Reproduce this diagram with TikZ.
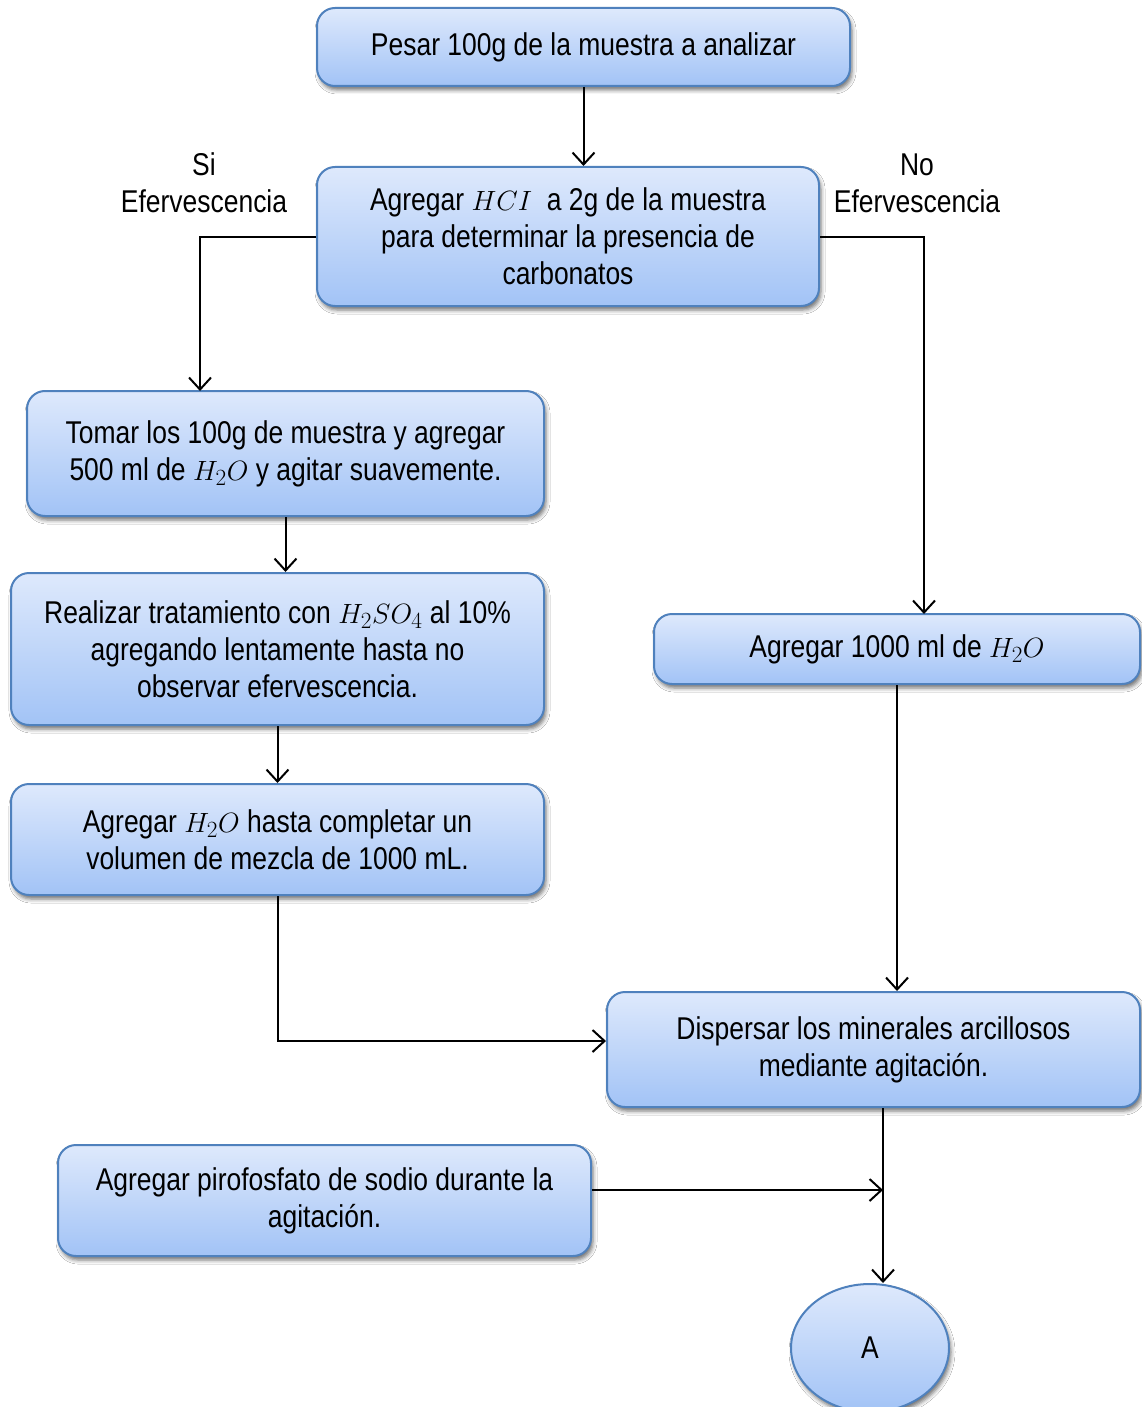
\documentclass[tikz,border=0pt]{standalone}
\usepackage{graphicx}
\usepackage{fontspec}
\setmainfont{Liberation Sans}[FakeStretch=0.84]
\usetikzlibrary{arrows.meta,shapes.geometric,shadows.blur}
\definecolor{boxtop}{RGB}{222,233,252}
\definecolor{boxbot}{RGB}{162,195,246}
\definecolor{boxline}{RGB}{79,129,189}
% chemical formulas set a little larger than the text
\newcommand{\chemf}[1]{\scalebox{1.12}{$#1$}}
\tikzset{
  boxshadow/.style={blur shadow={shadow xshift=2pt, shadow yshift=-4pt,
    shadow blur radius=4pt, shadow opacity=55}},
  stepbox/.style={draw=boxline, line width=2pt, rounded corners=18pt,
    top color=boxtop, bottom color=boxbot, align=center,
    font=\fontsize{31.5}{37}\selectfont, inner sep=0pt, boxshadow},
  endnode/.style={ellipse, draw=boxline, line width=2pt,
    top color=boxtop, bottom color=boxbot, font=\fontsize{31.5}{37}\selectfont,
    inner sep=0pt, boxshadow},
  flow/.style={line width=2pt, -{Straight Barb[length=12pt,width=22pt,line width=2pt]}},
  branch/.style={font=\fontsize{31.5}{37}\selectfont, align=center}
}
\begin{document}
\begin{tikzpicture}[x=1pt,y=-1pt]
\useasboundingbox[fill=white] (0,0) rectangle (1142,1407);

\node[stepbox, minimum width=533pt, minimum height=78pt] (pesar) at (583.5,47)
  {Pesar 100g de la muestra a analizar};
\node[stepbox, minimum width=502pt, minimum height=139pt] (hcl) at (568,236.5)
  {Agregar \chemf{HCI}\ \ a 2g de la muestra\\para determinar la presencia de\\carbonatos};
\node[stepbox, minimum width=517pt, minimum height=125pt] (tomar) at (285.5,453.5)
  {Tomar los 100g de muestra y agregar\\500 ml de \chemf{H_2O} y agitar suavemente.};
\node[stepbox, minimum width=533pt, minimum height=152pt] (acido) at (277.5,649)
  {Realizar tratamiento con \chemf{H_2SO_4} al 10\%\\agregando lentamente hasta no\\observar efervescencia.};
\node[stepbox, minimum width=533pt, minimum height=111pt] (volumen) at (277.5,839.5)
  {Agregar \chemf{H_2O} hasta completar un\\volumen de mezcla de 1000 mL.};
\node[stepbox, minimum width=486pt, minimum height=70pt] (agua) at (897,649)
  {Agregar 1000 ml de \chemf{H_2O}};
\node[stepbox, minimum width=533pt, minimum height=115pt] (dispersar) at (873.5,1049.5)
  {Dispersar los minerales arcillosos\\mediante agitación.};
\node[stepbox, minimum width=533pt, minimum height=111pt] (piro) at (324.5,1200.5)
  {Agregar pirofosfato de sodio durante la\\agitación.};
\node[endnode, minimum width=158pt, minimum height=128pt] (fin) at (870,1348) {A};

\node[branch] (si) at (204,183) {Si\\Efervescencia};
\node[branch] (no) at (917,183) {No\\Efervescencia};

\coordinate (j) at (883,1190);

\draw[flow] (pesar.south) -- (hcl.north -| pesar.south);
\draw[flow] (hcl.west) -| (200,391);
\draw[flow] (hcl.east) -| (924,614);
\draw[flow] (tomar.south) -- (acido.north -| tomar.south);
\draw[flow] (acido.south) -- (volumen.north);
\draw[flow] (volumen.south) |- (dispersar.west |- 0,1041);
\draw[flow] (agua.south) -- (agua.south |- dispersar.north);
\draw[flow] (dispersar.south -| j) -- (j |- fin.north);
\draw[flow] (piro.east |- j) -- (j);
\end{tikzpicture}
\end{document}
